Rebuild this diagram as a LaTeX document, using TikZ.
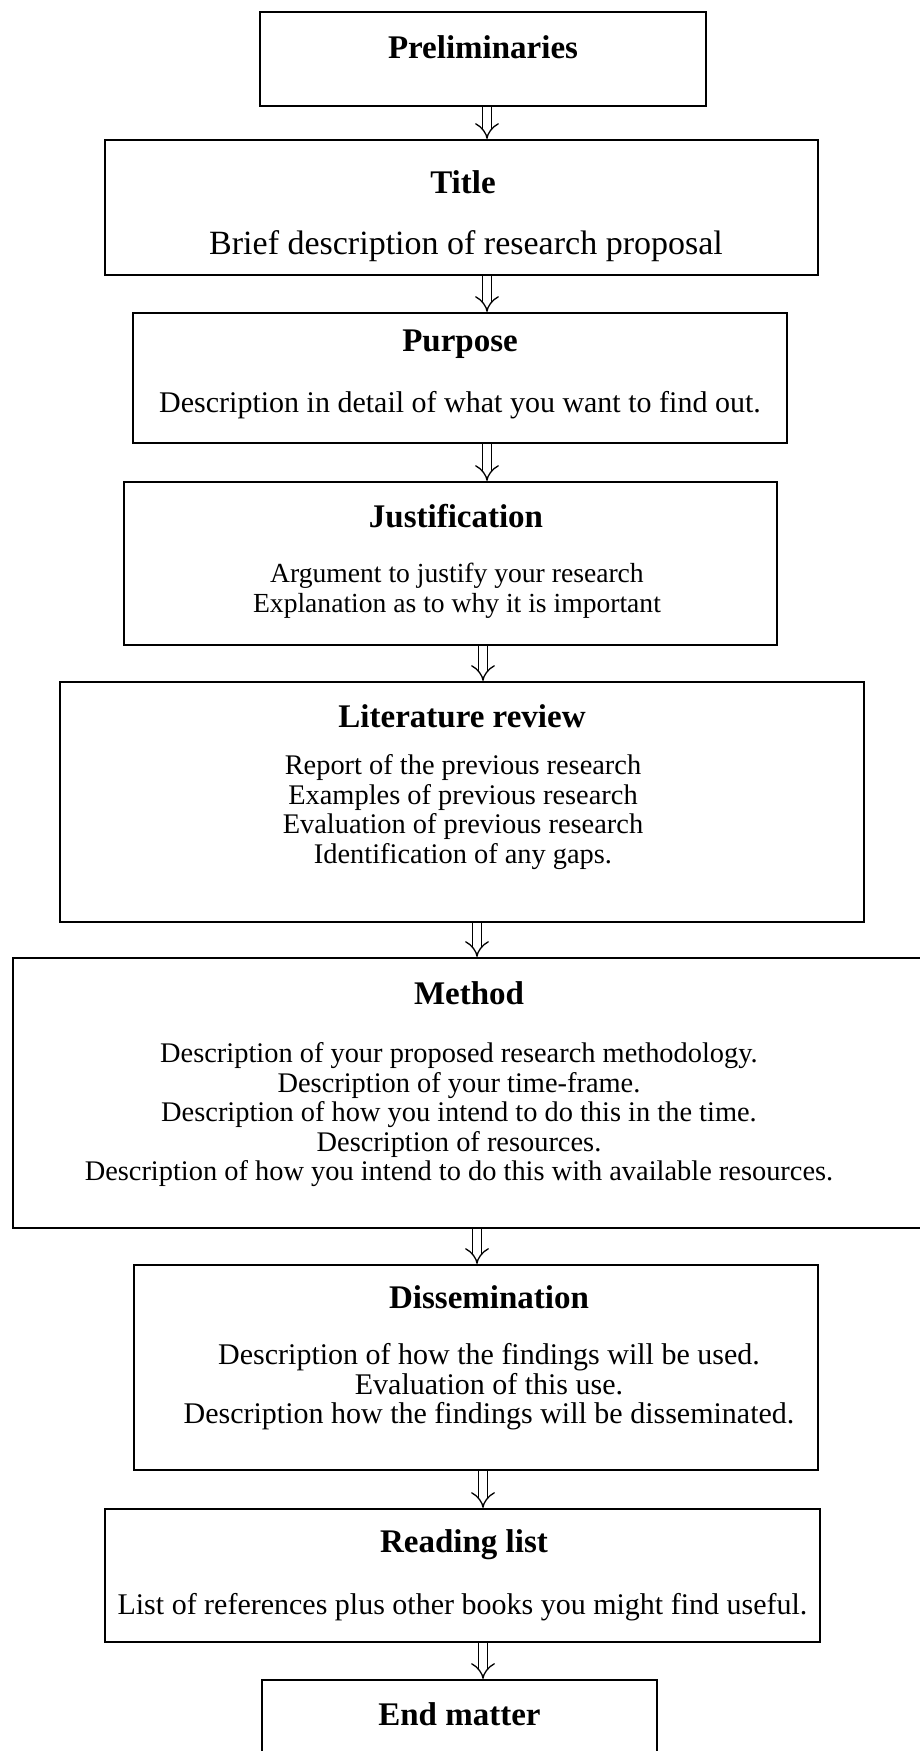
\documentclass[tikz,border=0pt]{standalone}
\usepackage{fontspec}
\setmainfont{Liberation Serif}
\usepackage{tikz}
\usetikzlibrary{arrows.meta}

\begin{document}
\begin{tikzpicture}[
  x=0.5pt, y=-0.5pt,
  box/.style={rectangle, draw, line width=1.1pt, inner sep=0pt},
  head/.style={font=\fontsize{16.5}{18}\selectfont\bfseries},
  body/.style={align=center, font=\fontsize{14.2}{14.75}\selectfont},
  arrow/.style={-{Implies}, double, double distance=3.6pt, line width=0.65pt}
]
\useasboundingbox (0,0) rectangle (920,1751);
\clip (0,0) rectangle (920,1751);

\node[box, minimum width=223pt, minimum height=47pt] (prelim) at (483,59) {};
\node[box, minimum width=356.5pt, minimum height=67.5pt] (title) at (461.5,207.5) {};
\node[box, minimum width=327pt, minimum height=65pt] (purpose) at (460,378) {};
\node[box, minimum width=326.5pt, minimum height=81.5pt] (justif) at (450.5,563.5) {};
\node[box, minimum width=402pt, minimum height=120pt] (lit) at (462,802) {};
\node[box, minimum width=458.5pt, minimum height=135pt] (method) at (471.5,1093) {};
\node[box, minimum width=342pt, minimum height=102.5pt] (dissem) at (476,1367.5) {};
\node[box, minimum width=357.5pt, minimum height=66.5pt] (reading) at (462.5,1575.5) {};
\node[box, minimum width=197.5pt, minimum height=60pt] (endm) at (459.5,1740) {};

\node[head] (prelimH) at (483,47) {Preliminaries};
\node[head] (titleH) at (463,182) {Title};
\node[body, font=\fontsize{17}{18}\selectfont] (titleB) at (466,246) {Brief description of research proposal};
\node[head] (purposeH) at (460,344) {Purpose};
\node[body, font=\fontsize{15}{16}\selectfont] (purposeB) at (460,405) {Description in detail of what you want to find out.};
\node[head] (justifH) at (456,516) {Justification};
\node[body, font=\fontsize{13.8}{14.75}\selectfont] (justifB) at (457,591) {Argument to justify your research\\Explanation as to why it is important};
\node[head] (litH) at (462,716) {Literature review};
\node[body] (litB) at (463,812) {Report of the previous research\\Examples of previous research\\Evaluation of previous research\\Identification of any gaps.};
\node[head] (methodH) at (469,993) {Method};
\node[body] (methodB) at (459,1115) {Description of your proposed research methodology.\\Description of your time-frame.\\Description of how you intend to do this in the time.\\Description of resources.\\Description of how you intend to do this with available resources.};
\node[head] (dissemH) at (489,1297) {Dissemination};
\node[body, font=\fontsize{15}{14.75}\selectfont] (dissemB) at (489,1387) {Description of how the findings will be used.\\Evaluation of this use.\\Description how the findings will be disseminated.};
\node[head] (readingH) at (464,1545) {Reading list};
\node[body, font=\fontsize{15}{16}\selectfont] (readingB) at (462.5,1607) {List of references plus other books you might find useful.};
\node[head] (endmH) at (459.5,1714) {End matter};

\coordinate (c1) at (487,0);
\coordinate (c2) at (483,0);
\coordinate (c3) at (477,0);

\draw[arrow] (prelim.south -| c1) -- (title.north -| c1);
\draw[arrow] (title.south -| c1) -- (purpose.north -| c1);
\draw[arrow] (purpose.south -| c1) -- (justif.north -| c1);
\draw[arrow] (justif.south -| c2) -- (lit.north -| c2);
\draw[arrow] (lit.south -| c3) -- (method.north -| c3);
\draw[arrow] (method.south -| c3) -- (dissem.north -| c3);
\draw[arrow] (dissem.south -| c2) -- (reading.north -| c2);
\draw[arrow] (reading.south -| c2) -- (endm.north -| c2);

\end{tikzpicture}
\end{document}
